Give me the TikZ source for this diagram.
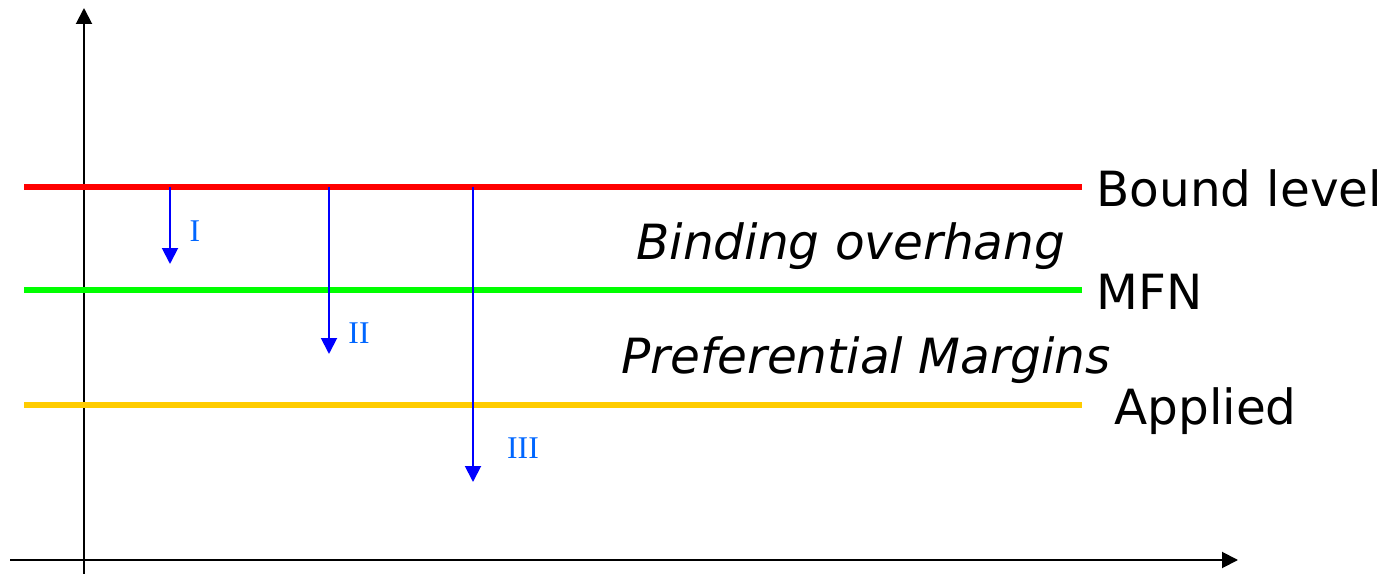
\documentclass[tikz,border=0pt]{standalone}
\usepackage{fontspec}
\setmainfont{DejaVu Sans}
\newfontfamily\numfont{Liberation Serif}
\usetikzlibrary{arrows.meta}
\definecolor{vermelho}{RGB}{255,0,0}
\definecolor{verde}{RGB}{0,255,0}
\definecolor{amarelo}{RGB}{255,204,0}
\definecolor{azulseta}{RGB}{0,0,255}
\definecolor{azultexto}{RGB}{0,102,255}
\begin{document}
\begin{tikzpicture}[x=0.02cm, y=-0.02cm,
    eixo/.style={line width=1.1pt, -{Triangle[length=0.32cm,width=0.32cm]}},
    nivel/.style={line width=3.1pt},
    queda/.style={azulseta, line width=1.1pt, -{Triangle[length=0.32cm,width=0.32cm]}},
    rotulo/.style={anchor=base west, inner sep=0pt, font=\fontsize{27.6}{31}\selectfont},
    numeral/.style={text=azultexto, inner sep=0pt, font=\numfont\fontsize{18}{20}\selectfont}]
    \useasboundingbox (0,0) rectangle (1397,574);
    % eixos
    \coordinate (y0) at (84,574); \coordinate (y1) at (84,8);
    \coordinate (x0) at (10,560); \coordinate (x1) at (1238,560);
    \draw[eixo] (y0) -- (y1);
    \draw[eixo] (x0) -- (x1);
    % niveis de tarifa
    \coordinate (b0) at (24,187);  \coordinate (b1) at (1082,187);
    \coordinate (m0) at (24,290);  \coordinate (m1) at (1082,290);
    \coordinate (a0) at (24,405);  \coordinate (a1) at (1082,405);
    \draw[nivel, vermelho] (b0) -- (b1);
    \draw[nivel, verde]    (m0) -- (m1);
    \draw[nivel, amarelo]  (a0) -- (a1);
    \node[rotulo] (bound) at (1096,207) {Bound level};
    \node[rotulo] (mfn) at (1096,310) {MFN};
    \node[rotulo] (applied) at (1114,424) {Applied};
    \node[rotulo, font=\fontsize{27.6}{31}\selectfont\itshape] (overhang) at (636,260) {Binding overhang};
    \node[rotulo, font=\fontsize{27.6}{31}\selectfont\itshape] (margens) at (621,374) {Preferential Margins};
    % setas de reducao
    \coordinate (sI) at (170,187);   \coordinate (fI) at (170,264);
    \coordinate (sII) at (329,187);  \coordinate (fII) at (329,354);
    \coordinate (sIII) at (473,187); \coordinate (fIII) at (473,482);
    \draw[queda] (sI) -- (fI);
    \draw[queda] (sII) -- (fII);
    \draw[queda] (sIII) -- (fIII);
    \node[numeral] (nI) at (195,231) {I};
    \node[numeral] (nII) at (359,333) {II};
    \node[numeral] (nIII) at (523,448) {III};
\end{tikzpicture}
\end{document}
